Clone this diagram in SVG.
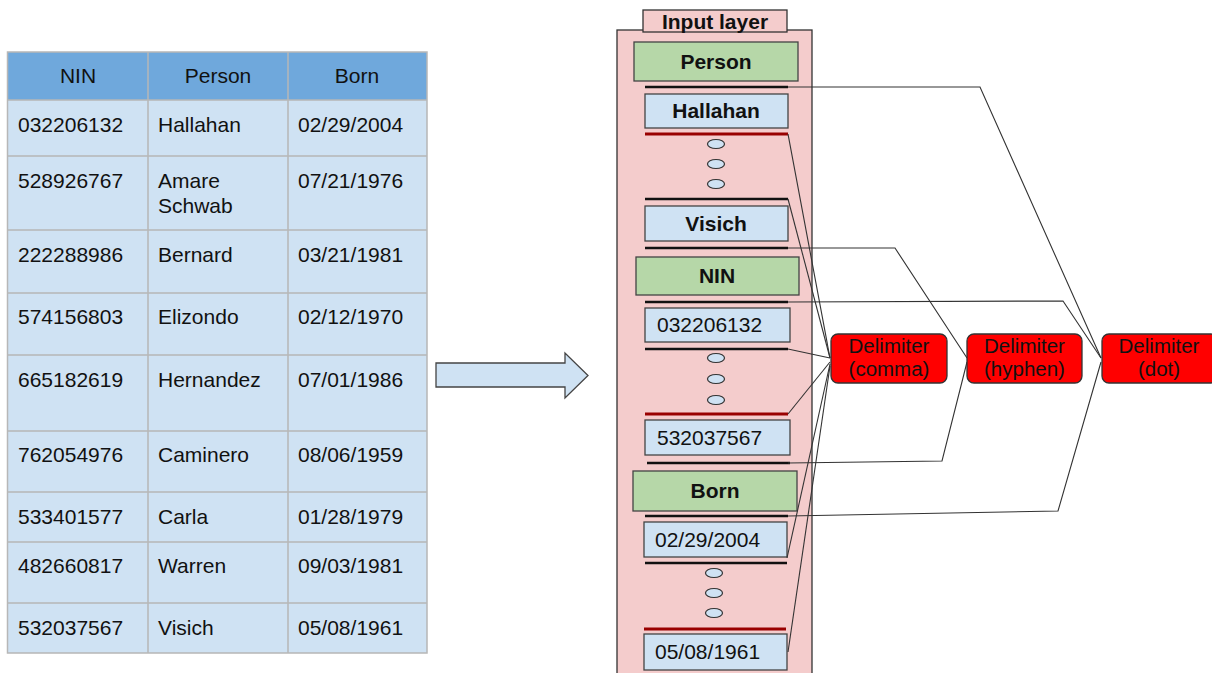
<svg xmlns="http://www.w3.org/2000/svg" width="1212" height="673" viewBox="0 0 1212 673">
<style>
text{font-family:"Liberation Sans",Arial,sans-serif;fill:#111}
.t{font-size:21px}
.hc{text-anchor:middle}
.b{font-weight:bold}
.cell{fill:#cfe2f3}
.grid{stroke:#b7b7b7;stroke-width:1.5;fill:none}
.green{fill:#b6d7a8;stroke:#444;stroke-width:1.3}
.blue{fill:#cfe2f3;stroke:#444;stroke-width:1.3}
.sep{stroke:#111;stroke-width:2.5}
.rsep{stroke:#990000;stroke-width:3}
.dots{fill:#cfe2f3;stroke:#333;stroke-width:1.2}
.delim{fill:#ff0000;stroke:#333;stroke-width:1.3}
.conn{fill:none;stroke:#333;stroke-width:1.1}
.dl{font-size:20.5px;text-anchor:middle}
</style>

<g id="table">
<rect x="7.5" y="52" width="419.5" height="48" fill="#6fa8dc"/>
<rect x="7.5" y="100" width="419.5" height="553" class="cell"/>
<path class="grid" d="M7.5 52H427V653H7.5Z M148 52V653 M288 52V653 M7.5 100H427 M7.5 156H427 M7.5 230H427 M7.5 293H427 M7.5 355H427 M7.5 431H427 M7.5 492H427 M7.5 542H427 M7.5 603H427"/>
<g class="t">
<text x="78" y="83" class="hc">NIN</text>
<text x="218" y="83" class="hc">Person</text>
<text x="357" y="83" class="hc">Born</text>
<text x="18" y="132">032206132</text><text x="158" y="132">Hallahan</text><text x="298" y="132">02/29/2004</text>
<text x="18" y="188">528926767</text><text x="158" y="188">Amare</text><text x="158" y="213">Schwab</text><text x="298" y="188">07/21/1976</text>
<text x="18" y="262">222288986</text><text x="158" y="262">Bernard</text><text x="298" y="262">03/21/1981</text>
<text x="18" y="324">574156803</text><text x="158" y="324">Elizondo</text><text x="298" y="324">02/12/1970</text>
<text x="18" y="387">665182619</text><text x="158" y="387">Hernandez</text><text x="298" y="387">07/01/1986</text>
<text x="18" y="462">762054976</text><text x="158" y="462">Caminero</text><text x="298" y="462">08/06/1959</text>
<text x="18" y="524">533401577</text><text x="158" y="524">Carla</text><text x="298" y="524">01/28/1979</text>
<text x="18" y="573">482660817</text><text x="158" y="573">Warren</text><text x="298" y="573">09/03/1981</text>
<text x="18" y="635">532037567</text><text x="158" y="635">Visich</text><text x="298" y="635">05/08/1961</text>
</g>
</g>

<g id="arrow">
<polygon points="436,363 565,363 565,353 588,375.5 565,398 565,387 436,387" fill="#cfe2f3" stroke="#444" stroke-width="1.3"/>
</g>

<g id="input-layer">
<rect x="617" y="30" width="195" height="660" fill="#f4cccc" stroke="#333" stroke-width="1.3"/>
<rect x="643" y="10" width="144" height="22" fill="#f4cccc" stroke="#333" stroke-width="1.3"/>
<text x="715" y="29" class="hc b" font-size="21">Input layer</text>
</g>

<g id="person-header"><rect x="634" y="42" width="164" height="39" class="green"/><text x="716" y="69" class="t hc b">Person</text></g>
<g id="hallahan"><rect x="645" y="94" width="143" height="34" class="blue"/><text x="716" y="118" class="t hc b">Hallahan</text></g>
<g id="visich"><rect x="645" y="206" width="143" height="35" class="blue"/><text x="716" y="231" class="t hc b">Visich</text></g>
<g id="nin-header"><rect x="636" y="257" width="163" height="38" class="green"/><text x="717" y="283" class="t hc b">NIN</text></g>
<g id="nin-first"><rect x="645" y="308" width="145" height="34" class="blue"/><text x="657" y="332" class="t">032206132</text></g>
<g id="nin-last"><rect x="645" y="420" width="145" height="35" class="blue"/><text x="657" y="445" class="t">532037567</text></g>
<g id="born-header"><rect x="633" y="471" width="164" height="40" class="green"/><text x="715" y="498" class="t hc b">Born</text></g>
<g id="born-first"><rect x="644" y="522" width="143" height="35" class="blue"/><text x="655" y="547" class="t">02/29/2004</text></g>
<g id="born-last"><rect x="644" y="634" width="143" height="36" class="blue"/><text x="655" y="659" class="t">05/08/1961</text></g>

<g id="separators">
<line x1="645" y1="87" x2="788" y2="87" class="sep"/>
<line x1="645" y1="134" x2="788" y2="134" class="rsep"/>
<line x1="645" y1="199" x2="788" y2="199" class="sep"/>
<line x1="645" y1="248" x2="788" y2="248" class="sep"/>
<line x1="645" y1="302" x2="788" y2="302" class="sep"/>
<line x1="645" y1="349" x2="788" y2="349" class="sep"/>
<line x1="645" y1="414" x2="788" y2="414" class="rsep"/>
<line x1="647" y1="463" x2="790" y2="463" class="sep"/>
<line x1="645" y1="516" x2="788" y2="516" class="sep"/>
<line x1="645" y1="563" x2="787" y2="563" class="sep"/>
<line x1="644" y1="629" x2="786" y2="629" class="rsep"/>
</g>

<g id="ellipses">
<ellipse cx="716" cy="144" rx="8.5" ry="4.5" class="dots"/>
<ellipse cx="716" cy="164" rx="8.5" ry="4.5" class="dots"/>
<ellipse cx="716" cy="184" rx="8.5" ry="4.5" class="dots"/>
<ellipse cx="716" cy="358" rx="8.5" ry="4.5" class="dots"/>
<ellipse cx="716" cy="379" rx="8.5" ry="4.5" class="dots"/>
<ellipse cx="716" cy="400" rx="8.5" ry="4.5" class="dots"/>
<ellipse cx="714" cy="573" rx="8.5" ry="4.5" class="dots"/>
<ellipse cx="714" cy="593" rx="8.5" ry="4.5" class="dots"/>
<ellipse cx="714" cy="613" rx="8.5" ry="4.5" class="dots"/>
</g>

<g id="connectors">
<polyline class="conn" points="788,87 980,87 1101,358"/>
<polyline class="conn" points="788,134 830,358"/>
<polyline class="conn" points="788,199 830,358"/>
<polyline class="conn" points="788,248 895,248 967,358"/>
<polyline class="conn" points="788,302 1063,301 1101,358"/>
<polyline class="conn" points="788,349 830,358"/>
<polyline class="conn" points="788,414 830,362"/>
<polyline class="conn" points="788,463 942,461 967,362"/>
<polyline class="conn" points="788,516 1058,511 1101,362"/>
<polyline class="conn" points="787,558 830,364"/>
<polyline class="conn" points="788,652 830,366"/>
</g>

<g id="delim-comma"><rect x="831" y="334" width="116" height="49" rx="7" class="delim"/><text x="889" y="353" class="dl">Delimiter</text><text x="889" y="376" class="dl">(comma)</text></g>
<g id="delim-hyphen"><rect x="967" y="334" width="115" height="49" rx="7" class="delim"/><text x="1024.5" y="353" class="dl">Delimiter</text><text x="1024.5" y="376" class="dl">(hyphen)</text></g>
<g id="delim-dot"><rect x="1102" y="334" width="116" height="49" rx="7" class="delim"/><text x="1159" y="353" class="dl">Delimiter</text><text x="1159" y="376" class="dl">(dot)</text></g>
</svg>
